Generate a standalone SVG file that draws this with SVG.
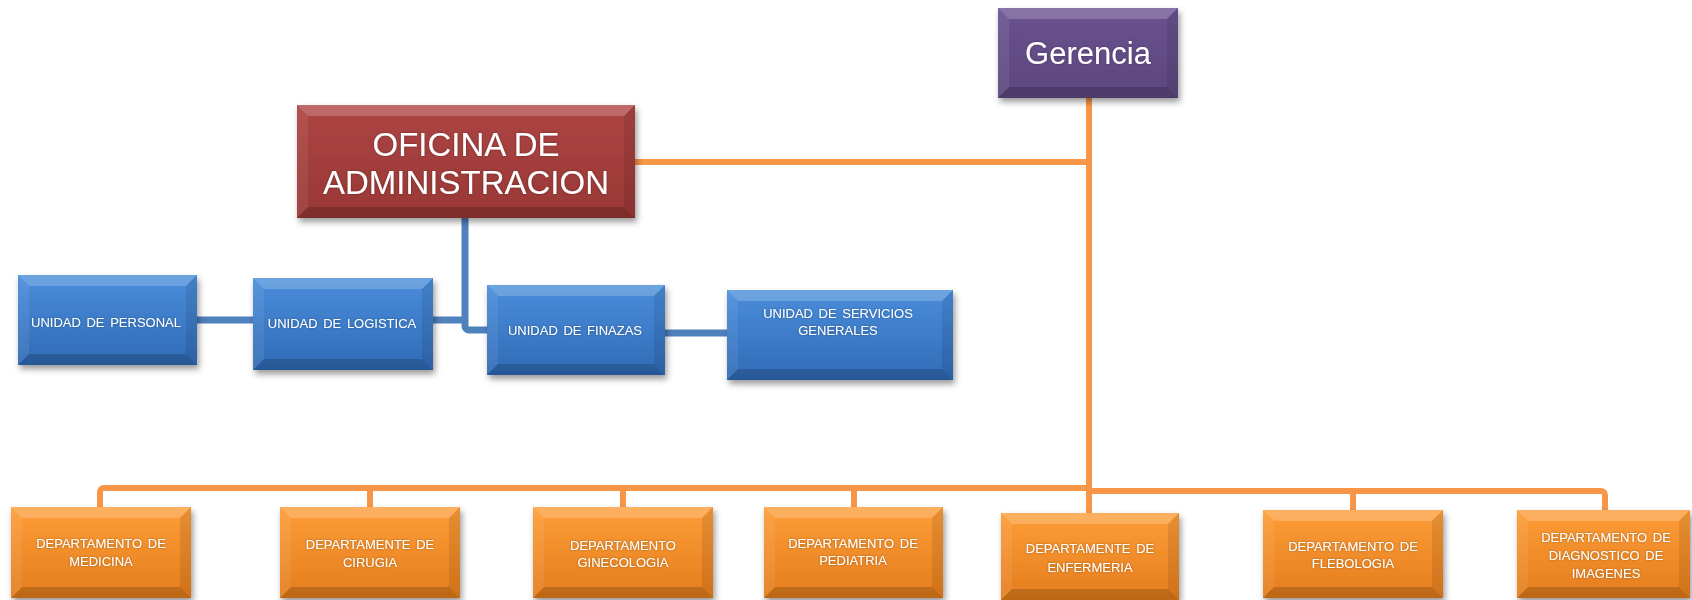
<svg xmlns="http://www.w3.org/2000/svg" width="1692" height="600" viewBox="0 0 1692 600">
  <style>
    .bg { fill: #ffffff; }
    .orange-line { fill: none; stroke: #f79646; stroke-width: 6; }
    .blue-line { fill: none; stroke: #4f81bd; stroke-width: 7; }
    .face-blue { fill: url(#gBlue); }
    .face-orange { fill: url(#gOrange); }
    .face-red { fill: url(#gRed); }
    .face-purple { fill: url(#gPurple); }
    .bt { fill: #ffffff; fill-opacity: 0.2; }
    .bl { fill: #ffffff; fill-opacity: 0.07; }
    .br { fill: #000000; fill-opacity: 0.09; }
    .bb { fill: #000000; fill-opacity: 0.17; }
    .node { filter: url(#shadow); }
    text { font-family: "Liberation Sans", Arial, sans-serif; fill: #ffffff; text-anchor: middle; filter: url(#tglow); }
    .small { font-size: 13px; word-spacing: 2px; }
    .big { font-size: 33px; }
    .head { font-size: 31px; }
  </style>
  <defs>
    <linearGradient id="gBlue" x1="0" y1="0" x2="0" y2="1">
      <stop offset="0" stop-color="#4a8ddb"/>
      <stop offset="1" stop-color="#306bb6"/>
    </linearGradient>
    <linearGradient id="gOrange" x1="0" y1="0" x2="0" y2="1">
      <stop offset="0" stop-color="#fd9d38"/>
      <stop offset="1" stop-color="#e47d1d"/>
    </linearGradient>
    <linearGradient id="gRed" x1="0" y1="0" x2="0" y2="1">
      <stop offset="0" stop-color="#ad4543"/>
      <stop offset="1" stop-color="#983735"/>
    </linearGradient>
    <linearGradient id="gPurple" x1="0" y1="0" x2="0" y2="1">
      <stop offset="0" stop-color="#6a5290"/>
      <stop offset="1" stop-color="#5d477e"/>
    </linearGradient>
    <filter id="shadow" x="-10%" y="-10%" width="125%" height="130%">
      <feDropShadow dx="2" dy="4" stdDeviation="3" flood-color="#000000" flood-opacity="0.4"/>
    </filter>
    <filter id="tglow" x="-10%" y="-30%" width="120%" height="160%">
      <feDropShadow dx="0" dy="0" stdDeviation="0.8" flood-color="#000000" flood-opacity="0.35"/>
    </filter>
  </defs>

  <rect class="bg" x="0" y="0" width="1692" height="600"/>

  <!-- connectors -->
  <g id="connectors">
    <path class="orange-line" d="M1089,98 V514"/>
    <path class="orange-line" d="M635,162 H1089"/>
    <path class="orange-line" d="M1089,488 H104 a4,4 0 0 0 -4,4 V508"/>
    <path class="orange-line" d="M370,488 V508"/>
    <path class="orange-line" d="M623,488 V508"/>
    <path class="orange-line" d="M854,488 V508"/>
    <path class="orange-line" d="M1089,491 H1601 a4,4 0 0 1 4,4 V511"/>
    <path class="orange-line" d="M1353,491 V511"/>
    <path class="blue-line" d="M197,320 H253"/>
    <path class="blue-line" d="M433,320 H465"/>
    <path class="blue-line" d="M465,218 V326 a4,4 0 0 0 4,4 H488"/>
    <path class="blue-line" d="M665,333 H727"/>
  </g>

  <!-- top management -->
  <g id="gerencia" class="node">
    <rect class="face-purple" x="998" y="8" width="180" height="90"/>
    <polygon class="bt" points="998,8 1178,8 1167,19 1009,19"/>
    <polygon class="bl" points="998,8 1009,19 1009,87 998,98"/>
    <polygon class="br" points="1178,8 1167,19 1167,87 1178,98"/>
    <polygon class="bb" points="998,98 1178,98 1167,87 1009,87"/>
    <text class="head" x="1088" y="64">Gerencia</text>
  </g>

  <g id="oficina-administracion" class="node">
    <rect class="face-red" x="297" y="105" width="338" height="113"/>
    <polygon class="bt" points="297,105 635,105 624,116 308,116"/>
    <polygon class="bl" points="297,105 308,116 308,207 297,218"/>
    <polygon class="br" points="635,105 624,116 624,207 635,218"/>
    <polygon class="bb" points="297,218 635,218 624,207 308,207"/>
    <text class="big" x="466" y="156">OFICINA DE</text>
    <text class="big" x="466" y="194">ADMINISTRACION</text>
  </g>

  <!-- administrative units -->
  <g id="unidad-personal" class="node">
    <rect class="face-blue" x="18" y="275" width="179" height="90"/>
    <polygon class="bt" points="18,275 197,275 186,286 29,286"/>
    <polygon class="bl" points="18,275 29,286 29,354 18,365"/>
    <polygon class="br" points="197,275 186,286 186,354 197,365"/>
    <polygon class="bb" points="18,365 197,365 186,354 29,354"/>
    <text class="small" x="106" y="327">UNIDAD DE PERSONAL</text>
  </g>

  <g id="unidad-logistica" class="node">
    <rect class="face-blue" x="253" y="278" width="180" height="92"/>
    <polygon class="bt" points="253,278 433,278 422,289 264,289"/>
    <polygon class="bl" points="253,278 264,289 264,359 253,370"/>
    <polygon class="br" points="433,278 422,289 422,359 433,370"/>
    <polygon class="bb" points="253,370 433,370 422,359 264,359"/>
    <text class="small" x="342" y="328">UNIDAD DE LOGISTICA</text>
  </g>

  <g id="unidad-finazas" class="node">
    <rect class="face-blue" x="487" y="285" width="178" height="90"/>
    <polygon class="bt" points="487,285 665,285 654,296 498,296"/>
    <polygon class="bl" points="487,285 498,296 498,364 487,375"/>
    <polygon class="br" points="665,285 654,296 654,364 665,375"/>
    <polygon class="bb" points="487,375 665,375 654,364 498,364"/>
    <text class="small" x="575" y="335">UNIDAD DE FINAZAS</text>
  </g>

  <g id="unidad-servicios" class="node">
    <rect class="face-blue" x="727" y="290" width="226" height="90"/>
    <polygon class="bt" points="727,290 953,290 942,301 738,301"/>
    <polygon class="bl" points="727,290 738,301 738,369 727,380"/>
    <polygon class="br" points="953,290 942,301 942,369 953,380"/>
    <polygon class="bb" points="727,380 953,380 942,369 738,369"/>
    <text class="small" x="838" y="318">UNIDAD DE SERVICIOS</text>
    <text class="small" x="838" y="335">GENERALES</text>
  </g>

  <!-- departments -->
  <g id="dep-medicina" class="node">
    <rect class="face-orange" x="11" y="507" width="180" height="91"/>
    <polygon class="bt" points="11,507 191,507 180,518 22,518"/>
    <polygon class="bl" points="11,507 22,518 22,587 11,598"/>
    <polygon class="br" points="191,507 180,518 180,587 191,598"/>
    <polygon class="bb" points="11,598 191,598 180,587 22,587"/>
    <text class="small" x="101" y="548">DEPARTAMENTO DE</text>
    <text class="small" x="101" y="566">MEDICINA</text>
  </g>

  <g id="dep-cirugia" class="node">
    <rect class="face-orange" x="280" y="507" width="180" height="91"/>
    <polygon class="bt" points="280,507 460,507 449,518 291,518"/>
    <polygon class="bl" points="280,507 291,518 291,587 280,598"/>
    <polygon class="br" points="460,507 449,518 449,587 460,598"/>
    <polygon class="bb" points="280,598 460,598 449,587 291,587"/>
    <text class="small" x="370" y="549">DEPARTAMENTE DE</text>
    <text class="small" x="370" y="567">CIRUGIA</text>
  </g>

  <g id="dep-ginecologia" class="node">
    <rect class="face-orange" x="533" y="507" width="180" height="91"/>
    <polygon class="bt" points="533,507 713,507 702,518 544,518"/>
    <polygon class="bl" points="533,507 544,518 544,587 533,598"/>
    <polygon class="br" points="713,507 702,518 702,587 713,598"/>
    <polygon class="bb" points="533,598 713,598 702,587 544,587"/>
    <text class="small" x="623" y="550">DEPARTAMENTO</text>
    <text class="small" x="623" y="567">GINECOLOGIA</text>
  </g>

  <g id="dep-pediatria" class="node">
    <rect class="face-orange" x="764" y="507" width="179" height="91"/>
    <polygon class="bt" points="764,507 943,507 932,518 775,518"/>
    <polygon class="bl" points="764,507 775,518 775,587 764,598"/>
    <polygon class="br" points="943,507 932,518 932,587 943,598"/>
    <polygon class="bb" points="764,598 943,598 932,587 775,587"/>
    <text class="small" x="853" y="548">DEPARTAMENTO DE</text>
    <text class="small" x="853" y="565">PEDIATRIA</text>
  </g>

  <g id="dep-enfermeria" class="node">
    <rect class="face-orange" x="1001" y="513" width="178" height="87"/>
    <polygon class="bt" points="1001,513 1179,513 1168,524 1012,524"/>
    <polygon class="bl" points="1001,513 1012,524 1012,589 1001,600"/>
    <polygon class="br" points="1179,513 1168,524 1168,589 1179,600"/>
    <polygon class="bb" points="1001,600 1179,600 1168,589 1012,589"/>
    <text class="small" x="1090" y="553">DEPARTAMENTE DE</text>
    <text class="small" x="1090" y="572">ENFERMERIA</text>
  </g>

  <g id="dep-flebologia" class="node">
    <rect class="face-orange" x="1263" y="510" width="180" height="88"/>
    <polygon class="bt" points="1263,510 1443,510 1432,521 1274,521"/>
    <polygon class="bl" points="1263,510 1274,521 1274,587 1263,598"/>
    <polygon class="br" points="1443,510 1432,521 1432,587 1443,598"/>
    <polygon class="bb" points="1263,598 1443,598 1432,587 1274,587"/>
    <text class="small" x="1353" y="551">DEPARTAMENTO DE</text>
    <text class="small" x="1353" y="568">FLEBOLOGIA</text>
  </g>

  <g id="dep-diagnostico" class="node">
    <rect class="face-orange" x="1517" y="510" width="173" height="88"/>
    <polygon class="bt" points="1517,510 1690,510 1679,521 1528,521"/>
    <polygon class="bl" points="1517,510 1528,521 1528,587 1517,598"/>
    <polygon class="br" points="1690,510 1679,521 1679,587 1690,598"/>
    <polygon class="bb" points="1517,598 1690,598 1679,587 1528,587"/>
    <text class="small" x="1606" y="542">DEPARTAMENTO DE</text>
    <text class="small" x="1606" y="560">DIAGNOSTICO DE</text>
    <text class="small" x="1606" y="578">IMAGENES</text>
  </g>
</svg>
